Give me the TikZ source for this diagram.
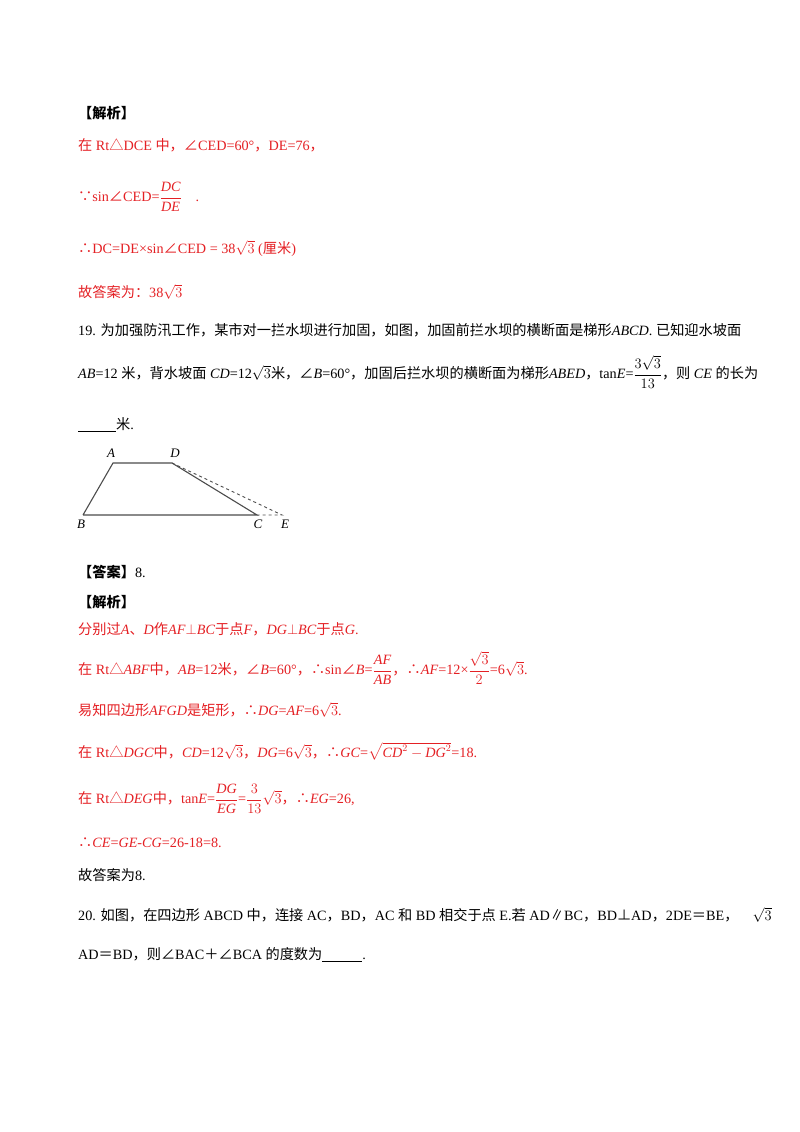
\documentclass[tikz,border=0pt]{standalone}
\usepackage{amsmath}
\usepackage{fontspec}
\setmainfont{Liberation Serif}
\newfontfamily\zhf{Noto Sans CJK SC}
\newcommand{\zh}[1]{{\zhf #1}}
\newcommand{\I}[1]{\textit{#1}}
\definecolor{myred}{RGB}{228,32,36}
\begin{document}
\begin{tikzpicture}[x=1pt,y=-1pt,
  txt/.style={anchor=west,inner sep=0pt,font=\fontsize{14.2}{16}\selectfont},
  rt/.style={txt,text=myred},
  edge/.style={line width=1.1pt,draw=black!70},
  dashedge/.style={dashed,line width=0.9pt,draw=black!70},
  lbl/.style={inner sep=0pt,font=\fontsize{13}{15}\selectfont\itshape}]
\useasboundingbox (0,0) rectangle (800,1132);
\node[txt] (h1) at (78,113) {\zh{\textbf{【解析】}}};
\node[rt] (l1) at (78,145) {\zh{在} Rt\zh{△}DCE \zh{中，∠}CED=60°\zh{，}DE=76\zh{，}};
\node[rt] (l2) at (78,197) {\zh{∵}sin\zh{∠}CED=$\dfrac{\textit{DC}}{\textit{DE}}$\hspace{14pt}.};
\node[rt] (l3) at (78,248) {\zh{∴}DC=DE×sin\zh{∠}CED = 38$\sqrt{3}$ (\zh{厘米})};
\node[rt] (l4) at (78,292) {\zh{故答案为：}38$\sqrt{3}$};
\node[txt] (q1) at (78,330) {19. \zh{为加强防汛工作，某市对一拦水坝进行加固，如图，加固前拦水坝的横断面是梯形}\I{ABCD}. \zh{已知迎水坡面}};
\node[txt] (q2) at (78,372) {\I{AB}=12 \zh{米，背水坡面} \I{CD}=12$\sqrt{3}$\zh{米，∠}\I{B}=60°\zh{，加固后拦水坝的横断面为梯形}\I{ABED}\zh{，}tan\I{E}=$\dfrac{3\sqrt{3}}{13}$\zh{，则} \I{CE} \zh{的长为}};
\node[txt] (q3) at (78,425) {\underline{\hspace{38pt}}\zh{米}.};
\coordinate (A) at (113,463);
\coordinate (D) at (172,463);
\coordinate (B) at (83,515);
\coordinate (C) at (257,515);
\coordinate (E) at (282,515);
\draw[edge] (B) -- (A) -- (D) -- (C) -- (B);
\draw[dashedge] (D) -- (E) -- (C);
\node[lbl] (nA) at (111,453) {A};
\node[lbl] (nD) at (175,453) {D};
\node[lbl] (nB) at (81,524) {B};
\node[lbl] (nC) at (258,524) {C};
\node[lbl] (nE) at (285,524) {E};
\node[txt] (ans) at (78,572) {\zh{\textbf{【答案】}}8.};
\node[txt] (h2) at (78,602) {\zh{\textbf{【解析】}}};
\node[rt] (s1) at (78,629) {\zh{分别过}\I{A}\zh{、}\I{D}\zh{作}\I{AF}$\perp$\I{BC}\zh{于点}\I{F}\zh{，}\I{DG}$\perp$\I{BC}\zh{于点}\I{G}.};
\node[rt] (s2) at (78,668) {\zh{在} Rt\zh{△}\I{ABF}\zh{中，}\I{AB}=12\zh{米，∠}\I{B}=60°\zh{，∴}sin\zh{∠}\I{B}=$\dfrac{\textit{AF}}{\textit{AB}}$\zh{，∴}\I{AF}=12×$\dfrac{\sqrt{3}}{2}$=6$\sqrt{3}$.};
\node[rt] (s3) at (78,710) {\zh{易知四边形}\I{AFGD}\zh{是矩形，∴}\I{DG}=\I{AF}=6$\sqrt{3}$.};
\node[rt] (s4) at (78,751) {\zh{在} Rt\zh{△}\I{DGC}\zh{中，}\I{CD}=12$\sqrt{3}$\zh{，}\I{DG}=6$\sqrt{3}$\zh{，∴}\I{GC}=$\sqrt{\textit{CD}^2-\textit{DG}^2}$=18.};
\node[rt] (s5) at (78,799) {\zh{在} Rt\zh{△}\I{DEG}\zh{中，}tan\I{E}=$\dfrac{\textit{DG}}{\textit{EG}}$=$\dfrac{3}{13}\sqrt{3}$\zh{，∴}\I{EG}=26,};
\node[rt] (s6) at (78,843) {\zh{∴}\I{CE}=\I{GE}-\I{CG}=26-18=8.};
\node[txt] (s7) at (78,875) {\zh{故答案为}8.};
\node[txt] (p1) at (78,915) {20. \zh{如图，在四边形} ABCD \zh{中，连接} AC\zh{，}BD\zh{，}AC \zh{和} BD \zh{相交于点} E.\zh{若} AD\zh{∥}BC\zh{，}BD\zh{⊥}AD\zh{，}2DE\zh{＝}BE\zh{，}\quad$\sqrt{3}$};
\node[txt] (p2) at (78,955) {AD\zh{＝}BD\zh{，则∠}BAC\zh{＋∠}BCA \zh{的度数为}\underline{\hspace{40pt}}.};
\end{tikzpicture}
\end{document}
